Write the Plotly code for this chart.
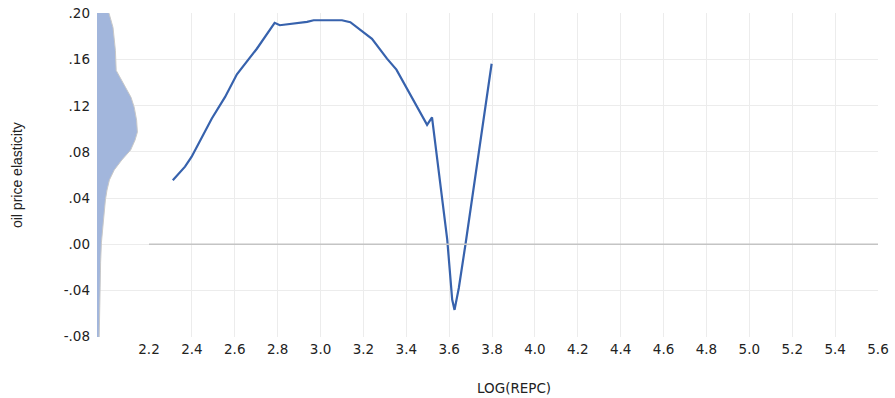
import plotly.graph_objects as go

# Fitted elasticity curve
log_repc = [2.311, 2.368, 2.399, 2.446, 2.493, 2.555, 2.610, 2.703, 2.786, 2.810,
            2.937, 2.968, 3.100, 3.139, 3.240, 3.310, 3.354, 3.497, 3.520, 3.591,
            3.614, 3.625, 3.645, 3.677, 3.775, 3.798]
elasticity = [0.0554, 0.0672, 0.0759, 0.0931, 0.1090, 0.1277, 0.1473, 0.1695, 0.1920, 0.1899,
              0.1928, 0.1942, 0.1942, 0.1925, 0.1781, 0.1609, 0.1514, 0.1035, 0.1099, 0.0039,
              -0.0480, -0.0570, -0.0380, 0.0010, 0.1248, 0.1565]

# Kernel density of the elasticity (drawn on the vertical axis)
dens_y = [0.2100, 0.2003, 0.188, 0.168, 0.1507, 0.1447, 0.136, 0.1274, 0.1188, 0.1075,
          0.0972, 0.0902, 0.0816, 0.073, 0.0643, 0.0557, 0.047, 0.0384, 0.0237, 0.0012,
          -0.016, -0.0394, -0.068, -0.0826, -0.0900]
dens_val = [2.8, 3.0, 4.0, 4.6, 4.8, 5.8, 7.2, 8.5, 9.3, 9.9,
            10.1, 9.5, 8.4, 6.2, 4.3, 3.1, 2.5, 2.1, 1.7, 1.1,
            0.9, 0.7, 0.55, 0.5, 0.5]

zero_x = [2.2, 5.65]
zero_y = [0.0, 0.0]

x_ticks = [2.2, 2.4, 2.6, 2.8, 3.0, 3.2, 3.4, 3.6, 3.8, 4.0, 4.2, 4.4, 4.6, 4.8, 5.0, 5.2, 5.4, 5.6]
x_grid = [2.4, 2.6, 2.8, 3.0, 3.2, 3.4, 3.6, 3.8, 4.0, 4.2, 4.4, 4.6, 4.8, 5.0, 5.2, 5.4]
y_ticks = [0.20, 0.16, 0.12, 0.08, 0.04, 0.00, -0.04, -0.08]
y_labels = [".20", ".16", ".12", ".08", ".04", ".00", "-.04", "-.08"]
y_grid = [0.16, 0.12, 0.08, 0.04, 0.00, -0.04]

X_RANGE = [1.9575, 5.6]
Y_RANGE = [-0.0805, 0.2005]

fig = go.Figure()

fig.add_trace(go.Scatter(x=zero_x, y=zero_y, mode="lines",
                         line=dict(color="#c4c4c4", width=1.5),
                         xaxis="x3", yaxis="y2", hoverinfo="skip", showlegend=False))

fig.add_trace(go.Scatter(x=dens_val, y=dens_y, mode="lines", fill="tozerox",
                         fillcolor="#a2b6dc", line=dict(color="#c8c8c8", width=1),
                         xaxis="x2", yaxis="y", hoverinfo="skip", showlegend=False))

fig.add_trace(go.Scatter(x=log_repc, y=elasticity, mode="lines",
                         line=dict(color="#3762ad", width=2.2),
                         xaxis="x", yaxis="y", showlegend=False))

font_main = "DejaVu Sans, Verdana, sans-serif"

fig.update_layout(
    width=895, height=398,
    margin=dict(l=97, r=17, t=13, b=61),
    paper_bgcolor="white", plot_bgcolor="white",
    xaxis=dict(range=X_RANGE, tickvals=x_ticks, ticktext=[f"{v:.1f}" for v in x_ticks],
               showgrid=False, zeroline=False, showline=False, ticks="",
               ticklabelstandoff=2, automargin=False,
               tickfont=dict(family=font_main, size=13.5, color="#222222")),
    xaxis2=dict(range=[0, 195.25], overlaying="x", showgrid=False, zeroline=False,
                showticklabels=False, showline=False, ticks="", automargin=False),
    xaxis3=dict(range=X_RANGE, overlaying="x", tickvals=x_grid, showgrid=True,
                gridcolor="#ececec", gridwidth=1, zeroline=False, automargin=False,
                showticklabels=False, showline=False, ticks=""),
    yaxis=dict(range=Y_RANGE, tickvals=y_ticks, ticktext=y_labels, showgrid=False,
               zeroline=False, showline=False, ticks="", ticklabelstandoff=6,
               automargin=False,
               tickfont=dict(family=font_main, size=13.5, color="#222222")),
    yaxis2=dict(range=Y_RANGE, overlaying="y", tickvals=y_grid, showgrid=True,
                gridcolor="#ececec", gridwidth=1, zeroline=False, automargin=False,
                showticklabels=False, showline=False, ticks=""),
    annotations=[
        dict(text="oil price elasticity", xref="paper", yref="paper",
             x=-0.1024, y=0.5, xanchor="center", yanchor="middle", textangle=-90,
             showarrow=False,
             font=dict(family="Liberation Sans Narrow, Arial Narrow, Liberation Sans, sans-serif",
                       size=14, color="#222222")),
        dict(text="LOG(REPC)", xref="x", yref="paper", x=3.9, y=-0.157,
             xanchor="center", yanchor="middle", showarrow=False,
             font=dict(family=font_main, size=13.5, color="#222222")),
    ],
)

fig.write_html("out.html", config={"displayModeBar": False},
               post_script="document.body.style.margin='0';document.body.style.overflow='hidden';")
